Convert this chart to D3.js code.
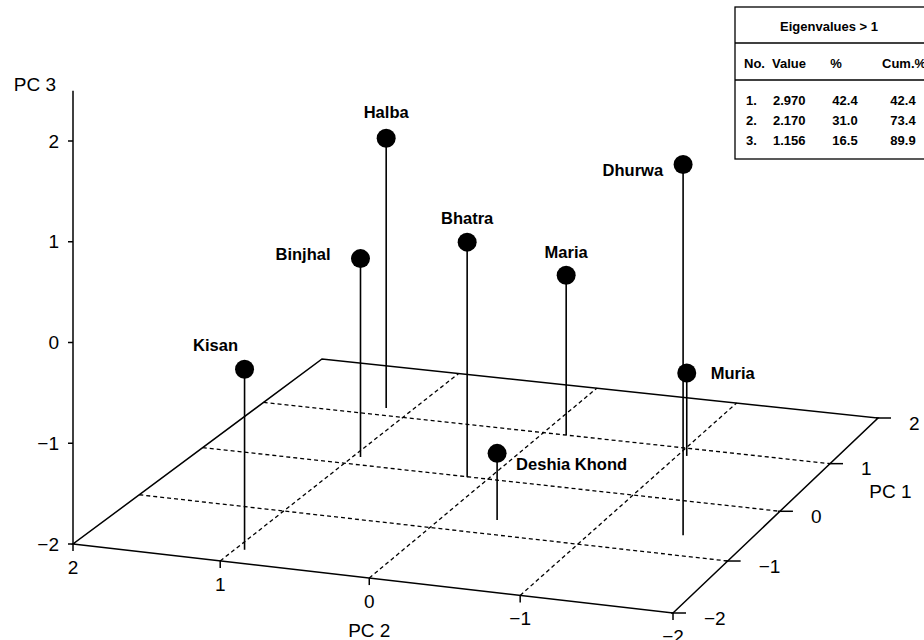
<!DOCTYPE html>
<html>
<head>
<meta charset="utf-8">
<script src="https://cdn.jsdelivr.net/npm/d3@7"></script>
<style>
  body { margin: 0; background: #fff; }
  text { font-family: "Liberation Sans", Arial, Helvetica, sans-serif; fill: #000; }
</style>
</head>
<body>
<svg id="chart" width="924" height="640"></svg>
<script>
// tribes and their scores on the first three principal components
const tribes = ["Kisan", "Binjhal", "Halba", "Bhatra", "Maria", "Deshia Khond", "Dhurwa", "Muria"];
const pc1 = [-1.76, 0.15, 1.15, -0.01, 1.00, -0.73, -0.63, 0.85];
const pc2 = [0.94, 0.95, 1.18, 0.14, -0.16, -0.35, -1.57, -1.06];
const pc3 = [-0.21, 0.05, 0.85, 0.41, -0.33, -1.33, 1.71, -1.14];

const ticks = [-2, -1, 0, 1, 2];
const gridValues = [-1, 0, 1];

// eigenvalue table
const eigNo = [1, 2, 3];
const eigValue = [2.970, 2.170, 1.156];
const eigPct = [42.4, 31.0, 16.5];
const eigCum = [42.4, 73.4, 89.9];

// where each label sits relative to its ball: [anchor, dx, dy]
const labelOffsets = [
    ["middle", -29, -24], ["end", -30, -4], ["middle", 0, -26], ["middle", 0, -24],
    ["middle", 0, -23], ["start", 19, 11], ["end", -20, 6], ["start", 24, 0]
];

const svg = d3.select("#chart");

// floor of the box (PC3 = -2) seen in perspective: unit square -> screen quad
const quad = [[73, 544], [673, 613], [878, 418], [322, 359]];
const u = d3.scaleLinear().domain([2, -2]).range([0, 1]);   // PC2
const v = d3.scaleLinear().domain([-2, 2]).range([0, 1]);   // PC1
const h = d3.scaleLinear().domain([-2, 2]).range([0, 403]); // PC3, px at front corner

const homography = (q) => {
    const [[x0, y0], [x1, y1], [x2, y2], [x3, y3]] = q;
    const dx1 = x1 - x2, dx2 = x3 - x2, dx3 = x0 - x1 + x2 - x3;
    const dy1 = y1 - y2, dy2 = y3 - y2, dy3 = y0 - y1 + y2 - y3;
    const den = dx1 * dy2 - dx2 * dy1;
    const g = (dx3 * dy2 - dx2 * dy3) / den;
    const k = (dx1 * dy3 - dx3 * dy1) / den;
    return {
        a: x1 - x0 + g * x1, b: x3 - x0 + k * x3, c: x0,
        d: y1 - y0 + g * y1, e: y3 - y0 + k * y3, f: y0, g, k
    };
};
const H = homography(quad);

// p1 = PC1, p2 = PC2, p3 = PC3
const project = (p1, p2, p3) => {
    const s = u(p2), t = v(p1);
    const w = H.g * s + H.k * t + 1;
    return [
        (H.a * s + H.b * t + H.c) / w,
        (H.d * s + H.e * t + H.f) / w - h(p3) / w
    ];
};

const line = d3.line();
const fmtTick = d => (d < 0 ? "\u2212" + Math.abs(d) : String(d));

// dashed grid on the floor
const grid = svg.append("g")
    .attr("fill", "none")
    .attr("stroke", "#000")
    .attr("stroke-width", 1.3)
    .attr("stroke-dasharray", "4 3");

gridValues.forEach(g => {
    grid.append("path").attr("d", line([project(g, 2, -2), project(g, -2, -2)]));
    grid.append("path").attr("d", line([project(-2, g, -2), project(2, g, -2)]));
});

// solid frame of the floor
const frame = svg.append("g")
    .attr("fill", "none")
    .attr("stroke", "#000")
    .attr("stroke-width", 1.5);

frame.append("path")
    .attr("d", line([project(-2, 2, -2), project(-2, -2, -2), project(2, -2, -2), project(2, 2, -2)]) + "Z");

// vertical PC3 axis at the front-left corner
frame.append("path").attr("d", line([project(-2, 2, -2), project(-2, 2, 2.5)]));

// PC3 ticks and labels
ticks.forEach(t => {
    const [x, y] = project(-2, 2, t);
    frame.append("path").attr("d", line([[x - 5, y], [x, y]]));
    svg.append("text")
        .attr("x", x - 14).attr("y", y)
        .attr("dy", "0.35em")
        .attr("text-anchor", "end")
        .style("font-size", "19px")
        .text(fmtTick(t));
});
{
    const [x, y] = project(-2, 2, 2.5);
    svg.append("text")
        .attr("x", x - 17).attr("y", y - 6)
        .attr("dy", "0.35em")
        .attr("text-anchor", "end")
        .style("font-size", "19px")
        .text("PC 3");
}

// PC2 ticks along the front edge
ticks.forEach(t => {
    const [x, y] = project(-2, t, -2);
    frame.append("path").attr("d", line([[x, y], [x, y + 7]]));
    svg.append("text")
        .attr("x", x).attr("y", y + 23)
        .attr("dy", "0.35em")
        .attr("text-anchor", "middle")
        .style("font-size", "19px")
        .text(fmtTick(t));
});
{
    const [x, y] = project(-2, 0, -2);
    svg.append("text")
        .attr("x", x).attr("y", y + 52)
        .attr("dy", "0.35em")
        .attr("text-anchor", "middle")
        .style("font-size", "19px")
        .text("PC 2");
}

// PC1 ticks along the right edge
ticks.forEach(t => {
    const [x, y] = project(t, -2, -2);
    frame.append("path").attr("d", line([[x - 2, y], [x + 13, y]]));
    svg.append("text")
        .attr("x", x + 31).attr("y", y + 5)
        .attr("dy", "0.35em")
        .attr("text-anchor", "start")
        .style("font-size", "19px")
        .text(fmtTick(t));
});
{
    const [x, y] = project(0.5, -2, -2);
    svg.append("text")
        .attr("x", x + 64).attr("y", y + 4)
        .attr("dy", "0.35em")
        .attr("text-anchor", "start")
        .style("font-size", "19px")
        .text("PC 1");
}

// stems, balls and names
tribes.forEach((name, i) => {
    const top = project(pc1[i], pc2[i], pc3[i]);
    const foot = project(pc1[i], pc2[i], -2);

    svg.append("path")
        .attr("d", line([top, foot]))
        .attr("stroke", "#000")
        .attr("stroke-width", 1.6);

    svg.append("circle")
        .attr("cx", top[0]).attr("cy", top[1])
        .attr("r", 9.5)
        .attr("fill", "#000");

    const [anchor, dx, dy] = labelOffsets[i];
    svg.append("text")
        .attr("x", top[0] + dx).attr("y", top[1] + dy)
        .attr("dy", "0.35em")
        .attr("text-anchor", anchor)
        .style("font-size", "16.5px")
        .style("font-weight", "bold")
        .text(name);
});

// eigenvalue table in the top-right corner
const tbl = svg.append("g");
tbl.append("rect")
    .attr("x", 735).attr("y", 7)
    .attr("width", 220).attr("height", 152)
    .attr("fill", "none")
    .attr("stroke", "#000")
    .attr("stroke-width", 1.3);
[43, 80].forEach(y => {
    tbl.append("line")
        .attr("x1", 735).attr("x2", 924)
        .attr("y1", y).attr("y2", y)
        .attr("stroke", "#000")
        .attr("stroke-width", 1.3);
});

const cell = (x, y, anchor, str) => tbl.append("text")
    .attr("x", x).attr("y", y)
    .attr("dy", "0.35em")
    .attr("text-anchor", anchor)
    .style("font-size", "13px")
    .style("font-weight", "bold")
    .text(str);

cell(829, 26, "middle", "Eigenvalues > 1");
cell(744, 63, "start", "No.");
cell(772, 63, "start", "Value");
cell(836, 63, "middle", "%");
cell(882, 63, "start", "Cum.%");

eigNo.forEach((n, i) => {
    const y = 100 + i * 20;
    cell(746, y, "start", n + ".");
    cell(773, y, "start", d3.format(".3f")(eigValue[i]));
    cell(845, y, "middle", d3.format(".1f")(eigPct[i]));
    cell(903, y, "middle", d3.format(".1f")(eigCum[i]));
});
</script>
</body>
</html>
